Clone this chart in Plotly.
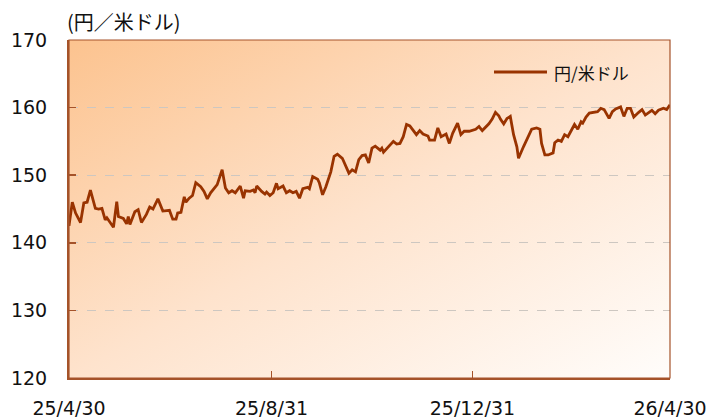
import base64
import plotly.graph_objects as go

dates = [
    "2025-04-30", "2025-05-02", "2025-05-04", "2025-05-07", "2025-05-09", "2025-05-11", "2025-05-13",
    "2025-05-16", "2025-05-18", "2025-05-20", "2025-05-22", "2025-05-23", "2025-05-27", "2025-05-29",
    "2025-05-30", "2025-06-02", "2025-06-04", "2025-06-05", "2025-06-06", "2025-06-09", "2025-06-11",
    "2025-06-13", "2025-06-16", "2025-06-18", "2025-06-20", "2025-06-23", "2025-06-26", "2025-06-30",
    "2025-07-02", "2025-07-04", "2025-07-05", "2025-07-07", "2025-07-09", "2025-07-10", "2025-07-12",
    "2025-07-14", "2025-07-16", "2025-07-19", "2025-07-21", "2025-07-23", "2025-07-25", "2025-07-27",
    "2025-07-29", "2025-08-01", "2025-08-03", "2025-08-05", "2025-08-07", "2025-08-09", "2025-08-12",
    "2025-08-14", "2025-08-15", "2025-08-18", "2025-08-20", "2025-08-21", "2025-08-22", "2025-08-25",
    "2025-08-27", "2025-08-28", "2025-08-30", "2025-09-01", "2025-09-03", "2025-09-04", "2025-09-07",
    "2025-09-09", "2025-09-11", "2025-09-13", "2025-09-15", "2025-09-17", "2025-09-19", "2025-09-22",
    "2025-09-23", "2025-09-25", "2025-09-28", "2025-09-29", "2025-10-01", "2025-10-03", "2025-10-06",
    "2025-10-08", "2025-10-10", "2025-10-13", "2025-10-15", "2025-10-17", "2025-10-19", "2025-10-21",
    "2025-10-23", "2025-10-25", "2025-10-27", "2025-10-29", "2025-10-31", "2025-11-02", "2025-11-05",
    "2025-11-06", "2025-11-07", "2025-11-10", "2025-11-13", "2025-11-15", "2025-11-17", "2025-11-19",
    "2025-11-21", "2025-11-23", "2025-11-25", "2025-11-27", "2025-11-29", "2025-12-01", "2025-12-04",
    "2025-12-05", "2025-12-08", "2025-12-10", "2025-12-12", "2025-12-15", "2025-12-17", "2025-12-19",
    "2025-12-22", "2025-12-24", "2025-12-26", "2025-12-29", "2026-01-02", "2026-01-04", "2026-01-06",
    "2026-01-10", "2026-01-12", "2026-01-14", "2026-01-16", "2026-01-17", "2026-01-19", "2026-01-21",
    "2026-01-23", "2026-01-25", "2026-01-27", "2026-01-28", "2026-01-31", "2026-02-03", "2026-02-05",
    "2026-02-08", "2026-02-10", "2026-02-11", "2026-02-13", "2026-02-15", "2026-02-18", "2026-02-19",
    "2026-02-21", "2026-02-23", "2026-02-25", "2026-02-27", "2026-03-01", "2026-03-03", "2026-03-05",
    "2026-03-07", "2026-03-08", "2026-03-10", "2026-03-12", "2026-03-14", "2026-03-17", "2026-03-19",
    "2026-03-21", "2026-03-24", "2026-03-26", "2026-03-28", "2026-03-31", "2026-04-02", "2026-04-04",
    "2026-04-06", "2026-04-08", "2026-04-11", "2026-04-13", "2026-04-15", "2026-04-17", "2026-04-19",
    "2026-04-21", "2026-04-23", "2026-04-26", "2026-04-28", "2026-04-30",
]

usdjpy = [
    142.5, 146.0, 144.4, 143.0, 145.9, 146.0, 147.8,
    145.1, 145.0, 145.1, 143.4, 143.7, 142.3, 146.1,
    143.9, 143.6, 142.8, 143.9, 142.7, 144.6, 144.9,
    143.0, 144.2, 145.3, 145.0, 146.5, 144.7, 144.8,
    143.5, 143.5, 144.4, 144.5, 146.8, 146.0, 146.6,
    147.0, 148.9, 148.3, 147.6, 146.5, 147.4, 148.0,
    148.6, 150.8, 148.1, 147.4, 147.7, 147.4, 148.4,
    146.6, 147.7, 147.6, 147.8, 147.4, 148.4, 147.6,
    147.2, 147.5, 147.0, 147.4, 148.8, 148.0, 148.4,
    147.4, 147.7, 147.4, 147.6, 146.6, 148.0, 148.2,
    148.0, 149.8, 149.4, 148.9, 147.1, 148.3, 150.5,
    152.8, 153.1, 152.5, 151.3, 150.3, 150.8, 150.5,
    152.3, 152.9, 153.0, 151.8, 154.0, 154.3, 153.7,
    154.0, 153.4, 154.2, 155.0, 154.6, 154.7, 155.7,
    157.5, 157.3, 156.7, 156.0, 156.6, 156.1, 155.8,
    155.2, 155.2, 157.0, 155.7, 156.1, 154.7, 156.2,
    157.7, 156.0, 156.5, 156.5, 156.8, 157.2, 156.6,
    157.6, 158.3, 159.3, 158.8, 158.3, 157.6, 158.4,
    158.7, 156.0, 154.2, 152.5, 154.2, 155.7, 156.8,
    157.0, 156.8, 154.7, 153.0, 153.0, 153.3, 154.8,
    155.2, 155.0, 156.0, 155.7, 156.5, 157.5, 156.8,
    157.9, 157.7, 158.6, 159.2, 159.3, 159.4, 159.9,
    159.7, 158.4, 159.4, 159.8, 160.1, 158.7, 159.9,
    159.9, 158.6, 159.3, 159.7, 158.9, 159.2, 159.6,
    159.1, 159.6, 159.9, 159.7, 160.4,
]

series_name = "円/米ドル"
unit_label = "(円／米ドル)"
x_tick_vals = ["2025-04-30", "2025-08-31", "2025-12-31", "2026-04-30"]
x_tick_text = ["25/4/30", "25/8/31", "25/12/31", "26/4/30"]
y_tick_vals = [120, 130, 140, 150, 160, 170]

LINE = "#993300"
AXIS = "#a5532a"
FONT = "DejaVu Sans"
CJK = "Noto Sans CJK JP"

svg = (
    '<svg xmlns="http://www.w3.org/2000/svg" width="600" height="340" viewBox="0 0 600 340" '
    'preserveAspectRatio="none">'
    '<defs><linearGradient id="g" x1="0" y1="0" x2="1" y2="1">'
    '<stop offset="0" stop-color="#fcc38f"/>'
    '<stop offset="0.5" stop-color="#fee3cd"/>'
    '<stop offset="1" stop-color="#fffdfb"/>'
    '</linearGradient></defs>'
    '<rect width="600" height="340" fill="url(#g)"/></svg>'
)
bg_src = "data:image/svg+xml;base64," + base64.b64encode(svg.encode()).decode()

fig = go.Figure()
fig.add_trace(go.Scatter(
    x=dates, y=usdjpy, mode="lines", name=series_name,
    line=dict(color=LINE, width=2.8), showlegend=False,
))

fig.add_layout_image(dict(
    source=bg_src, xref="paper", yref="paper", x=0, y=1, sizex=1, sizey=1,
    xanchor="left", yanchor="top", sizing="stretch", layer="below",
))

# thin frame around plot area
fig.add_shape(type="rect", xref="paper", yref="paper", x0=0, x1=1, y0=0, y1=1,
              line=dict(color=AXIS, width=1.2), layer="above")

# legend sample line and label
fig.add_shape(type="line", xref="paper", yref="paper",
              x0=(494 - 69) / 601, x1=(547 - 69) / 601,
              y0=(378 - 72) / 338, y1=(378 - 72) / 338,
              line=dict(color=LINE, width=2.8))
fig.add_annotation(text=series_name, xref="paper", yref="paper",
                   x=(552 - 69) / 601, y=(378 - 72) / 338, xanchor="left", yanchor="middle",
                   showarrow=False, font=dict(family=CJK, size=17, color="#111111"))

fig.add_annotation(text=unit_label, xref="paper", yref="paper",
                   x=(65 - 69) / 601, y=(378 - 22) / 338, xanchor="left", yanchor="middle",
                   showarrow=False, font=dict(family=CJK, size=20, color="#111111"))

fig.update_layout(
    width=712, height=419,
    margin=dict(l=69, r=42, t=40, b=41, autoexpand=False),
    paper_bgcolor="white", plot_bgcolor="rgba(0,0,0,0)",
    showlegend=False,
    hovermode=False,
    font=dict(family=FONT, size=19, color="#111111"),
)
fig.update_xaxes(
    type="date", range=["2025-04-30", "2026-04-30"],
    tickvals=x_tick_vals, ticktext=x_tick_text,
    showgrid=False, zeroline=False, automargin=False,
    showline=True, linecolor=AXIS, linewidth=2, mirror=False,
    ticks="inside", ticklen=7, tickcolor=AXIS, tickwidth=1.5,
    ticklabelstandoff=12,
    tickfont=dict(family=FONT, size=19, color="#111111"),
)
fig.update_yaxes(
    range=[120, 170], tickvals=y_tick_vals,
    showgrid=True, gridcolor="#cdc7c1", griddash="dash", gridwidth=1,
    zeroline=False, automargin=False,
    showline=True, linecolor=AXIS, linewidth=2,
    ticks="inside", ticklen=7, tickcolor=AXIS, tickwidth=1.5,
    ticklabelstandoff=16,
    tickfont=dict(family=FONT, size=19, color="#111111"),
)

fig.write_html(
    "out.html",
    config={"displayModeBar": False, "staticPlot": True},
    post_script="document.body.style.margin='0';document.body.style.overflow='hidden';"
                "document.documentElement.style.overflow='hidden';",
)
